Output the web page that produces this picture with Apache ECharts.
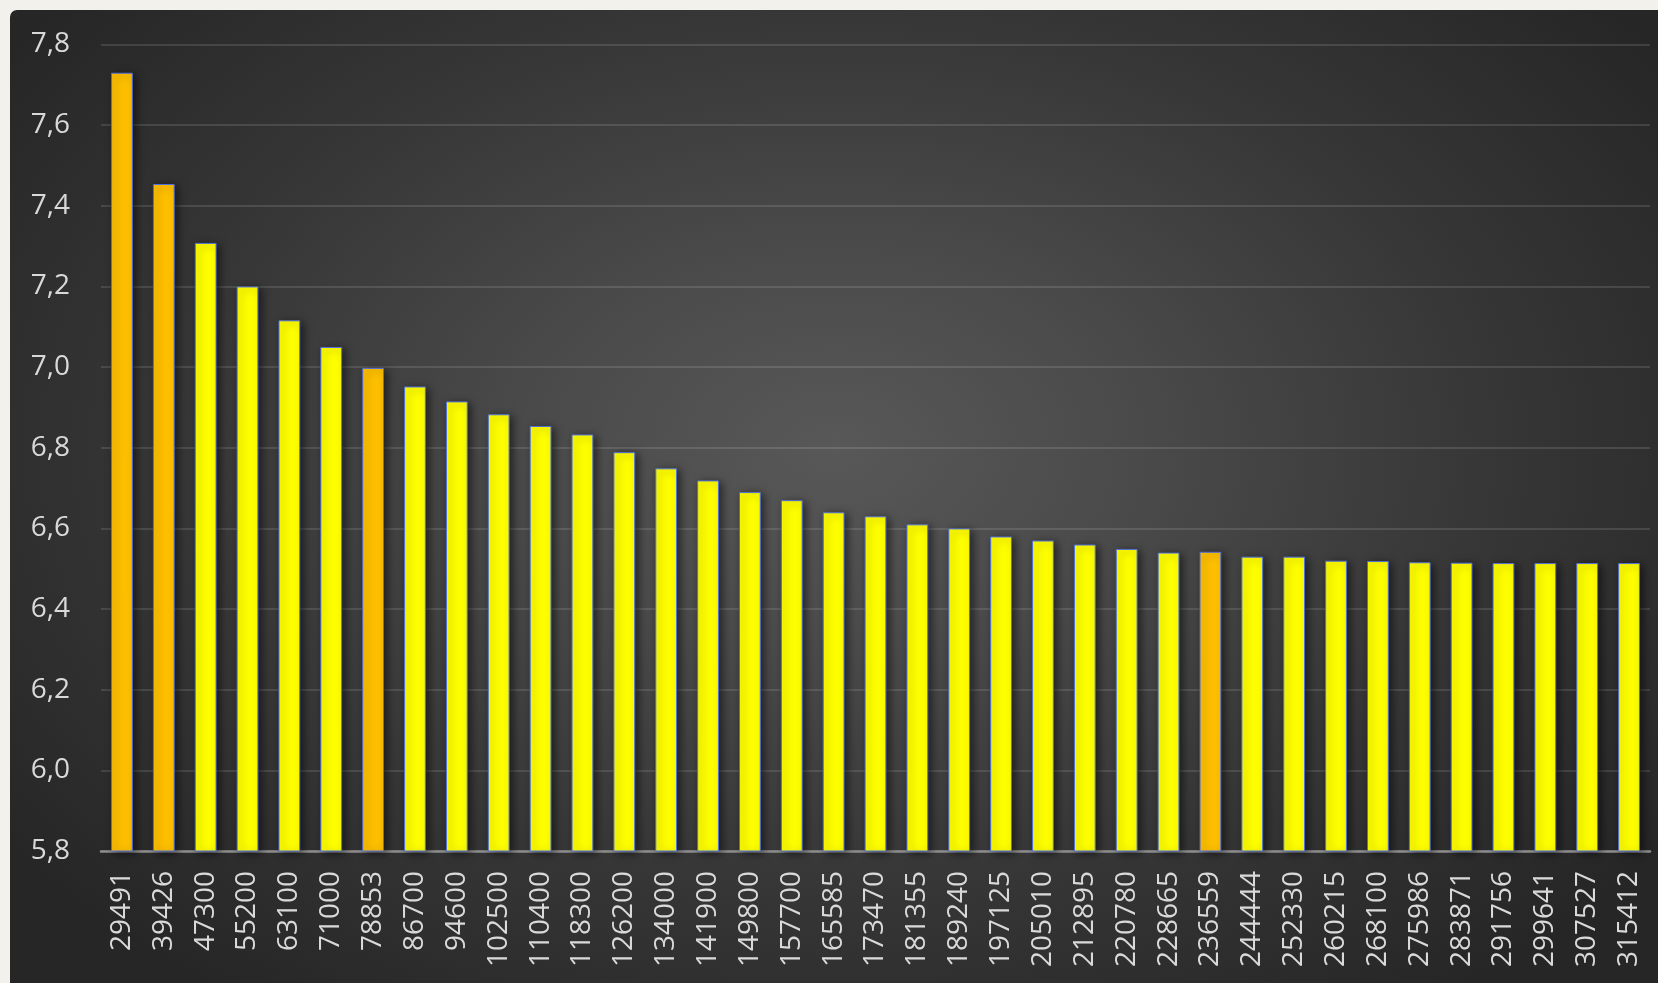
<!DOCTYPE html>
<html>
<head>
<meta charset="utf-8">
<script src="https://cdn.jsdelivr.net/npm/echarts@6/dist/echarts.min.js"></script>
<style>
  html, body { margin: 0; padding: 0; width: 1658px; height: 983px; background: #f2f1ec; overflow: hidden; }
  #panel { position: absolute; left: 10px; top: 10px; width: 1648px; height: 973px;
    border-top-left-radius: 7px;
    background: radial-gradient(ellipse 62% 70% at 50% 45%, #585858 0%, #4a4a4a 30%, #363636 65%, #262626 100%); }
  #chart { position: absolute; left: 10px; top: 10px; width: 1648px; height: 973px; }
</style>
</head>
<body>
<div id="panel"></div>
<div id="chart"></div>
<script>
const categories = ['29491','39426','47300','55200','63100','71000','78853','86700','94600','102500',
  '110400','118300','126200','134000','141900','149800','157700','165585','173470','181355',
  '189240','197125','205010','212895','220780','228665','236559','244444','252330','260215',
  '268100','275986','283871','291756','299641','307527','315412'];
const values = [7.73, 7.454, 7.308, 7.20, 7.116, 7.05, 6.998, 6.952, 6.915, 6.883,
  6.854, 6.833, 6.789, 6.749, 6.719, 6.69, 6.67, 6.64, 6.63, 6.61,
  6.60, 6.58, 6.57, 6.56, 6.549, 6.54, 6.542, 6.53, 6.53, 6.52,
  6.519, 6.516, 6.515, 6.514, 6.514, 6.514, 6.514];
const highlighted = ['29491','39426','78853','236559'];
const yTicks = { min: 5.8, max: 7.8, step: 0.2 };

const chart = echarts.init(document.getElementById('chart'), null, { renderer: 'canvas' });
const font = '"Open Sans", "Noto Sans", sans-serif';
chart.setOption({
  backgroundColor: 'transparent',
  animation: false,
  grid: { left: 91, right: 8, top: 34.5, bottom: 132, containLabel: false },
  xAxis: {
    type: 'category',
    data: categories,
    axisTick: { show: false },
    axisLine: { show: true, lineStyle: { color: '#8f8f8f', width: 2.5 } },
    axisLabel: { rotate: 90, interval: 0, color: '#d9d9d9', fontSize: 28, fontFamily: font, margin: 20 },
    splitLine: { show: false }
  },
  yAxis: {
    type: 'value',
    min: yTicks.min, max: yTicks.max, interval: yTicks.step,
    axisLine: { show: false },
    axisTick: { show: false },
    axisLabel: { color: '#d9d9d9', fontSize: 28, fontFamily: font, margin: 31,
      formatter: v => v.toFixed(1).replace('.', ',') },
    splitLine: { lineStyle: { color: 'rgba(255,255,255,0.12)', width: 2 } }
  },
  series: [{
    type: 'bar',
    data: values,
    barWidth: '52%',
    itemStyle: {
      color: p => highlighted.includes(categories[p.dataIndex]) ? '#ffc000' : '#ffff00',
      borderColor: p => highlighted.includes(categories[p.dataIndex]) ? 'rgba(200,140,0,0.6)' : 'rgba(140,140,0,0.85)',
      borderWidth: 1,
      shadowBlur: 8,
      shadowColor: 'rgba(0,0,0,0.55)',
      shadowOffsetX: 3,
      shadowOffsetY: 2
    }
  }]
});
</script>
</body>
</html>
